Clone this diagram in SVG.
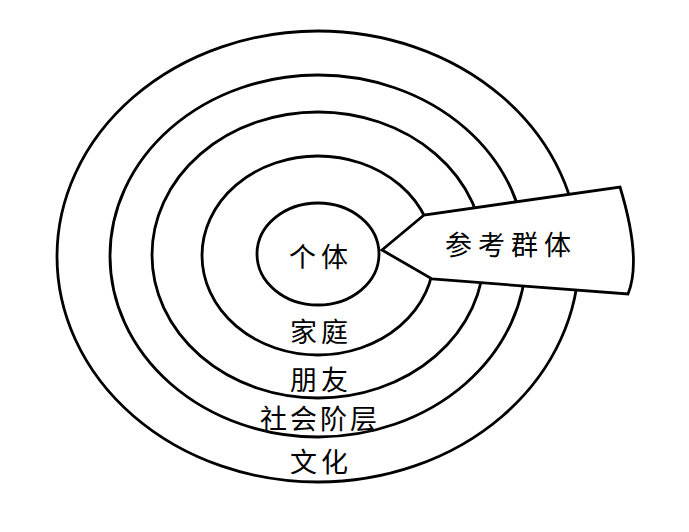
<svg xmlns="http://www.w3.org/2000/svg" width="689" height="532" viewBox="0 0 689 532">
  <style>
    .ring { fill: none; stroke: #000; stroke-width: 2.8; }
    .wedge { fill: #fff; stroke: #000; stroke-width: 2.8; stroke-linejoin: miter; }
    .lbl { font-family: "Noto Sans CJK SC", "Noto Sans", sans-serif; font-size: 27px; fill: #000; text-anchor: middle; dominant-baseline: central; }
  </style>
  <rect x="0" y="0" width="689" height="532" fill="#fff"/>
  <g id="ring-culture">
    <ellipse class="ring" cx="318" cy="256.5" rx="261" ry="225.5"/>
  </g>
  <g id="ring-class">
    <ellipse class="ring" cx="318" cy="256" rx="208" ry="181"/>
  </g>
  <g id="ring-friends">
    <ellipse class="ring" cx="318" cy="255" rx="166" ry="143"/>
  </g>
  <g id="ring-family">
    <ellipse class="ring" cx="318" cy="255.5" rx="116" ry="99.5"/>
  </g>
  <g id="reference-group">
    <path class="wedge" d="M382,250 L424,215 L620,187 Q642,259.5 628,294 L432,279 Z"/>
    <text class="lbl" x="511" y="243" letter-spacing="6">参考群体</text>
  </g>
  <g id="individual">
    <ellipse class="ring" cx="318" cy="254" rx="61" ry="51"/>
    <text class="lbl" x="321" y="255" letter-spacing="5">个体</text>
  </g>
  <g id="labels">
    <text class="lbl" x="321" y="330" letter-spacing="4">家庭</text>
    <text class="lbl" x="321" y="378.5" letter-spacing="4">朋友</text>
    <text class="lbl" x="320" y="417.5" letter-spacing="3">社会阶层</text>
    <text class="lbl" x="321" y="460" letter-spacing="4">文化</text>
  </g>
  <g id="connectors"></g>
</svg>
